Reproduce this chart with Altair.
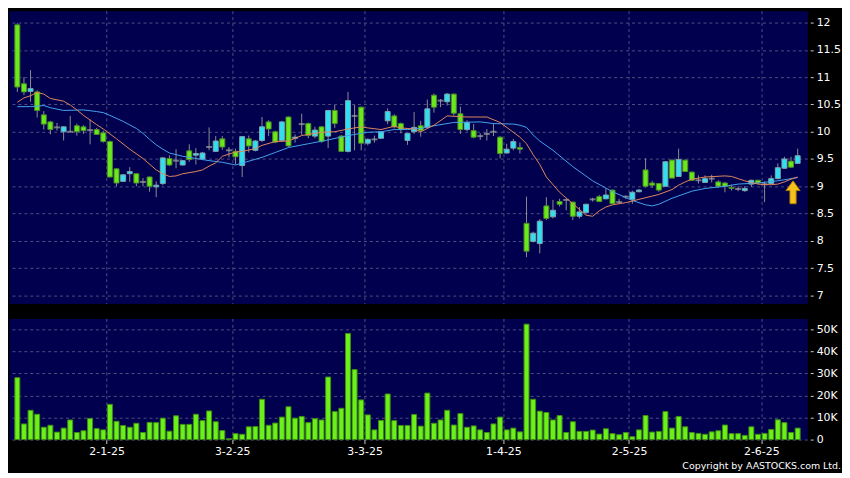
import altair as alt
import pandas as pd

# ---------------- data ----------------
opens = [11.96, 10.88, 10.74, 10.73, 10.31, 10.18, 10.08, 10.00, 10.00, 10.11,
         10.09, 10.03, 10.04, 9.98, 9.82, 9.32, 9.09, 9.23, 9.23, 9.08,
         9.17, 8.99, 9.05, 9.51, 9.47, 9.39, 9.65, 9.57, 9.50, 9.72,
         9.64, 9.87, 9.66, 9.64, 9.38, 9.87, 9.66, 9.84, 10.18, 10.00,
         9.84, 10.27, 9.88, 10.14, 10.15, 9.92, 10.09, 9.92, 10.39, 9.92,
         9.64, 10.29, 10.45, 9.79, 9.86, 9.88, 10.20, 10.29, 10.15, 9.84,
         10.00, 10.11, 10.08, 10.67, 10.57, 10.55, 10.69, 10.33, 10.04, 10.02,
         9.92, 9.96, 10.00, 9.90, 9.61, 9.70, 9.71, 8.32, 7.99, 7.95,
         8.64, 8.44, 8.72, 8.75, 8.71, 8.45, 8.52, 8.76, 8.81, 8.77,
         8.93, 8.71, 8.81, 8.76, 8.90, 9.30, 9.06, 9.05, 9.00, 9.48,
         9.18, 9.48, 9.26, 9.11, 9.07, 9.14, 9.08, 9.06, 8.98, 8.95,
         8.92, 9.04, 9.11, 9.04, 9.05, 9.14, 9.33, 9.46, 9.42]
highs = [11.99, 11.00, 11.13, 10.76, 10.38, 10.20, 10.16, 10.10, 10.29, 10.15,
         10.12, 10.22, 10.07, 10.02, 9.84, 9.33, 9.22, 9.35, 9.24, 9.15,
         9.18, 9.09, 9.53, 9.57, 9.68, 9.48, 9.77, 9.70, 9.63, 10.08,
         9.92, 9.92, 9.72, 9.69, 9.92, 9.93, 9.85, 10.27, 10.21, 10.02,
         10.20, 10.28, 9.95, 10.33, 10.17, 10.09, 10.10, 10.40, 10.49, 9.94,
         10.73, 10.49, 10.46, 9.88, 9.93, 10.00, 10.43, 10.32, 10.17, 9.97,
         10.36, 10.20, 10.59, 10.70, 10.60, 10.71, 10.70, 10.46, 10.21, 10.14,
         9.97, 10.05, 10.15, 9.92, 9.78, 9.87, 9.80, 8.81, 8.17, 8.40,
         8.80, 8.75, 8.77, 8.77, 8.72, 8.62, 8.68, 8.79, 8.84, 8.96,
         8.94, 8.77, 8.83, 8.92, 8.95, 9.51, 9.10, 9.06, 9.46, 9.49,
         9.69, 9.49, 9.27, 9.20, 9.20, 9.21, 9.11, 9.08, 9.03, 9.00,
         9.00, 9.12, 9.12, 9.09, 9.20, 9.42, 9.54, 9.54, 9.69]
lows = [10.73, 10.67, 10.55, 10.26, 10.04, 9.95, 10.02, 9.84, 9.99, 9.93,
        9.96, 9.77, 9.94, 9.80, 9.16, 9.00, 9.08, 9.08, 9.00, 9.00,
        8.90, 8.80, 9.02, 9.37, 9.33, 9.38, 9.45, 9.40, 9.48, 9.66,
        9.63, 9.67, 9.53, 9.40, 9.17, 9.62, 9.64, 9.81, 9.92, 9.79,
        9.82, 9.72, 9.80, 9.94, 9.88, 9.88, 9.80, 9.70, 10.07, 9.63,
        9.62, 9.66, 9.66, 9.75, 9.80, 9.87, 10.14, 10.06, 9.97, 9.76,
        9.96, 9.91, 10.06, 10.35, 10.45, 10.48, 10.30, 9.96, 10.01, 9.88,
        9.85, 9.84, 9.92, 9.51, 9.60, 9.66, 9.60, 7.70, 7.97, 7.77,
        8.38, 8.41, 8.63, 8.56, 8.38, 8.41, 8.51, 8.72, 8.72, 8.76,
        8.68, 8.68, 8.77, 8.68, 8.89, 8.98, 8.97, 8.90, 8.99, 9.15,
        9.17, 9.27, 9.10, 9.05, 9.06, 9.07, 8.97, 8.89, 8.92, 8.91,
        8.90, 8.99, 9.05, 8.71, 9.04, 9.13, 9.32, 9.34, 9.41]
closes = [10.82, 10.73, 10.79, 10.39, 10.14, 10.04, 10.08, 10.09, 10.00, 10.00,
          10.02, 10.03, 9.95, 9.82, 9.17, 9.06, 9.21, 9.27, 9.06, 9.08,
          9.00, 9.02, 9.52, 9.39, 9.47, 9.47, 9.49, 9.60, 9.61, 9.72,
          9.83, 9.72, 9.66, 9.54, 9.91, 9.74, 9.83, 10.09, 10.05, 9.81,
          10.18, 9.74, 9.90, 10.14, 9.93, 10.03, 9.82, 10.39, 10.15, 9.64,
          10.57, 10.29, 9.79, 9.86, 9.86, 10.00, 10.37, 10.09, 10.04, 9.97,
          10.08, 10.02, 10.42, 10.45, 10.57, 10.69, 10.34, 10.04, 10.17, 9.90,
          9.92, 9.96, 10.00, 9.60, 9.68, 9.82, 9.68, 7.81, 8.14, 8.36,
          8.41, 8.56, 8.67, 8.75, 8.45, 8.53, 8.67, 8.76, 8.72, 8.84,
          8.68, 8.71, 8.81, 8.89, 8.93, 9.00, 9.02, 8.93, 9.45, 9.15,
          9.49, 9.27, 9.11, 9.11, 9.14, 9.14, 9.00, 9.00, 8.96, 8.95,
          8.96, 9.11, 9.06, 9.04, 9.14, 9.34, 9.50, 9.35, 9.56]
volumes_k = [28.1, 7.1, 13.3, 11.5, 5.6, 6.5, 3.4, 5.2, 8.9, 3.2,
             4.0, 9.6, 5.0, 4.4, 16.0, 8.3, 6.4, 5.6, 7.4, 3.2,
             7.8, 7.7, 9.7, 3.8, 10.8, 6.9, 6.9, 11.5, 8.6, 13.0,
             8.1, 4.1, 0.4, 2.7, 2.4, 5.8, 5.9, 18.3, 6.5, 7.5,
             10.2, 14.9, 9.7, 10.5, 7.7, 9.5, 8.9, 28.4, 12.7, 14.2,
             48.2, 31.8, 18.0, 11.2, 4.4, 8.7, 20.7, 8.6, 6.4, 6.4,
             11.4, 6.1, 21.1, 7.4, 8.9, 13.3, 6.6, 11.8, 5.6, 6.2,
             4.4, 3.2, 7.1, 10.2, 4.4, 5.2, 3.5, 52.4, 18.3, 12.9,
             12.3, 8.9, 10.9, 3.2, 8.1, 3.7, 3.7, 4.3, 2.5, 4.9,
             2.7, 2.2, 3.2, 1.3, 4.4, 10.9, 3.4, 3.7, 12.7, 5.2,
             10.5, 5.8, 3.2, 2.8, 2.4, 3.5, 4.0, 6.6, 2.7, 2.7,
             1.9, 5.8, 2.4, 2.8, 4.6, 9.0, 7.7, 3.2, 5.2]

# short moving average (orange) and long moving average (blue)
ma_s_idx = [0, 1, 2, 3, 4, 5, 7, 8, 9, 10, 12, 13, 15, 17, 19, 21, 22, 23, 24, 25,
            27, 28, 29, 30, 31, 33, 34, 36, 37, 39, 41, 43, 46, 48, 50, 52, 53, 55, 57, 58,
            60, 61, 63, 65, 68, 71, 73, 75, 76, 77, 78, 79, 80, 82, 84, 86, 87, 88, 89, 90,
            92, 94, 96, 97, 99, 100, 101, 102, 104, 107, 108, 109, 110, 111, 112, 113, 114,
            115, 116, 117, 118]
ma_s_val = [10.54, 10.62, 10.66, 10.72, 10.69, 10.61, 10.56, 10.49, 10.40, 10.30, 10.13, 10.05,
            9.87, 9.68, 9.51, 9.30, 9.23, 9.18, 9.19, 9.23,
            9.27, 9.30, 9.37, 9.43, 9.55, 9.63, 9.64, 9.69, 9.75, 9.82, 9.83, 9.93, 9.99, 10.00,
            10.05, 10.09, 10.07, 10.04, 10.10, 10.07,
            10.05, 10.00, 10.12, 10.29, 10.27, 10.27, 10.17, 9.99, 9.90, 9.78, 9.58, 9.40, 9.17,
            8.89, 8.68, 8.47, 8.45, 8.55, 8.62, 8.66,
            8.70, 8.76, 8.82, 8.85, 8.94, 9.02, 9.08, 9.13, 9.17, 9.19, 9.18, 9.14, 9.10, 9.07,
            9.04, 9.03, 9.03, 9.04, 9.08, 9.13, 9.17]
ma_l_idx = [0, 2, 4, 5, 7, 10, 12, 13, 14, 16, 18, 19, 20, 21, 22, 23, 25, 27, 29, 31,
            33, 35, 37, 39, 41, 44, 47, 50, 53, 55, 57, 59, 61, 63, 66, 70, 72, 75, 76, 77,
            78, 79, 81, 84, 87, 90, 93, 95, 96, 97, 99, 102, 104, 107, 109, 112, 115, 118]
ma_l_val = [10.46, 10.46, 10.48, 10.44, 10.39, 10.40, 10.37, 10.35, 10.30, 10.19, 10.06, 9.97,
            9.86, 9.76, 9.68, 9.61, 9.55, 9.51, 9.47, 9.44,
            9.39, 9.46, 9.53, 9.62, 9.71, 9.78, 9.85, 9.93, 9.99, 10.00, 10.04, 10.04, 10.06,
            10.11, 10.17, 10.18, 10.15, 10.14, 10.12, 10.08,
            9.94, 9.83, 9.66, 9.36, 9.10, 8.90, 8.74, 8.66, 8.64, 8.67, 8.78, 8.91, 8.96, 9.00,
            9.04, 9.06, 9.10, 9.16]

# first trading day of each month (candle index) and its label
tick_days = [14, 33, 53, 74, 93, 113]
tick_labels = ["2-1-25", "3-2-25", "3-3-25", "1-4-25", "2-5-25", "2-6-25"]
price_ticks = [7, 7.5, 8, 8.5, 9, 9.5, 10, 10.5, 11, 11.5, 12]
vol_ticks = [0, 10, 20, 30, 40, 50]
arrow_day = [117.3]
arrow_price = [8.89]
copyright = ["Copyright by AASTOCKS.com Ltd."]

# ---------------- build ----------------
n = len(opens)
kinds = ["up" if c > o else ("down" if c < o else "flat") for o, c in zip(opens, closes)]
df = pd.DataFrame({"i": list(range(n)), "o": opens, "h": highs, "l": lows,
                   "c": closes, "v": volumes_k, "kind": kinds})
ma_s = pd.DataFrame({"i": ma_s_idx, "m": ma_s_val})
ma_l = pd.DataFrame({"i": ma_l_idx, "m": ma_l_val})
arrow = pd.DataFrame({"i": arrow_day, "p": arrow_price})

grid_pos = [d - 0.5 for d in tick_days]
label_expr = " : ".join(f"datum.value == {g} ? '{t}'" for g, t in zip(grid_pos, tick_labels)) + " : ''"

FONT = "DejaVu Sans"
GRID = "#4f4f80"
W = 804
xscale = alt.Scale(domain=[-0.51, 118.7], nice=False, zero=False)

x_top = alt.X("i:Q", scale=xscale, title=None,
              axis=alt.Axis(values=grid_pos, labels=False, ticks=False, domain=False,
                            grid=True, gridColor=GRID, gridDash=[3, 3]))
x_bot = alt.X("i:Q", scale=xscale, title=None,
              axis=alt.Axis(values=grid_pos, labelExpr=label_expr, ticks=True, tickSize=4,
                            tickColor="#cccccc", labelPadding=2, domain=False,
                            grid=True, gridColor=GRID, gridDash=[3, 3],
                            labelColor="white", labelFont=FONT, labelFontSize=11))

pscale = alt.Scale(domain=[6.85, 12.22], nice=False, zero=False)
paxis = alt.Axis(orient="right", values=price_ticks, format="~g", offset=3, tickSize=3,
                 tickColor="#cccccc", labelPadding=3, domain=False, grid=True,
                 gridColor=GRID, gridDash=[3, 3], labelColor="white", labelFont=FONT,
                 labelFontSize=11)


def py(field):
    return alt.Y(field, type="quantitative", scale=pscale, axis=paxis, title=None)


cscale = alt.Scale(domain=["up", "down", "flat"], range=["#2fe0f0", "#6ae81c", "#a0a0a0"])
sscale = alt.Scale(domain=["up", "down", "flat"], range=["#7fa2ad", "#4c8f25", "#a0a0a0"])

base = alt.Chart(df)
wick = base.mark_rule(color="#8c8c8c", strokeWidth=1).encode(x=x_top, y=py("l"), y2="h")
body = base.transform_filter("datum.kind != 'flat'").mark_bar(size=5, strokeWidth=1).encode(
    x=x_top, y=py("o"), y2="c",
    color=alt.Color("kind:N", scale=cscale, legend=None),
    stroke=alt.Stroke("kind:N", scale=sscale, legend=None))
doji = base.transform_filter("datum.kind == 'flat'").mark_tick(
    orient="horizontal", size=6, thickness=2, color="#a0a0a0").encode(x=x_top, y=py("o"))
line_l = alt.Chart(ma_l).mark_line(color="#45a2ea", strokeWidth=1).encode(x=x_top, y=py("m"))
line_s = alt.Chart(ma_s).mark_line(color="#e0875a", strokeWidth=1).encode(x=x_top, y=py("m"))
arrow_path = "M0,-1L0.62,-0.15L0.27,-0.15L0.27,1L-0.27,1L-0.27,-0.15L-0.62,-0.15Z"
arr = alt.Chart(arrow).mark_point(shape=arrow_path, filled=True, size=529, color="#f5c21b",
                                  stroke="#b07c00", strokeWidth=1, opacity=1).encode(
    x=x_top, y=py("p"))

price = alt.layer(wick, body, doji, line_l, line_s, arr).properties(width=W, height=295)

vscale = alt.Scale(domain=[0, 55], nice=False, zero=True)
vaxis = alt.Axis(orient="right", values=vol_ticks,
                 labelExpr="datum.value == 0 ? '0' : datum.value + 'K'",
                 offset=3, tickSize=3, tickColor="#cccccc", labelPadding=3, domain=False,
                 grid=True, gridColor=GRID, gridDash=[3, 3], labelColor="white",
                 labelFont=FONT, labelFontSize=11)
vol = alt.Chart(df).mark_bar(size=5, color="#6cf01a", stroke="#3e8c12", strokeWidth=1).encode(
    x=x_bot, y=alt.Y("v:Q", scale=vscale, axis=vaxis, title=None))
copy_txt = alt.Chart(pd.DataFrame({"t": copyright})).mark_text(
    align="right", baseline="alphabetic", color="white", font=FONT, fontSize=9.5).encode(
    x=alt.value(838), y=alt.value(152), text="t:N")
volume = alt.layer(vol, copy_txt).properties(width=W, height=122)

chart = alt.vconcat(price, volume, spacing=13).resolve_scale(y="independent").properties(
    padding={"left": 0, "top": 0, "right": 0, "bottom": 0},
    background="#000000",
).configure_view(fill="#00004f", stroke="transparent")

chart.save("out.html", embed_options={"renderer": "svg", "actions": False})
